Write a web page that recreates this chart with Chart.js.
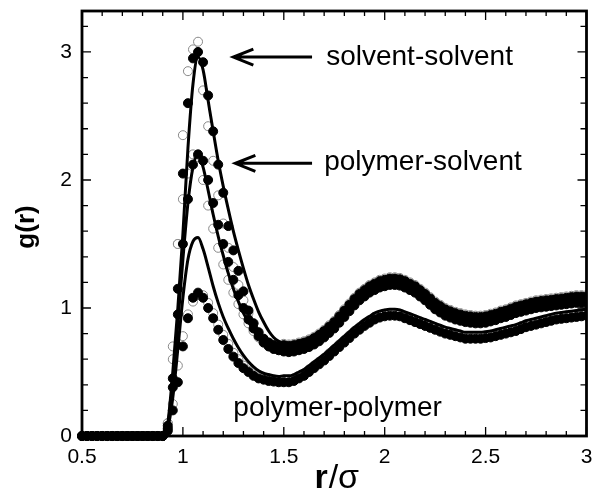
<!DOCTYPE html>
<html>
<head>
<meta charset="utf-8">
<script src="https://cdn.jsdelivr.net/npm/chart.js@4.4.1/dist/chart.umd.min.js"></script>
<style>
  html, body { margin: 0; padding: 0; background: #fff; }
  #wrap { width: 592px; height: 491px; position: relative; }
</style>
</head>
<body>
<div id="wrap"><canvas id="gr"></canvas></div>
<script>
// r/sigma grid shared by all series
const R = [0.5,0.525,0.55,0.575,0.6,0.625,0.65,0.675,0.7,0.725,0.75,0.775,0.8,0.825,0.85,0.875,
  0.9,0.925,0.95,0.975,1,1.025,1.05,1.075,1.1,1.125,1.15,1.175,1.2,1.225,1.25,1.275,1.3,1.325,1.35,1.375,1.4,1.425,1.45,1.475,
  1.5,1.525,1.55,1.575,1.6,1.625,1.65,1.675,1.7,1.725,1.75,1.775,1.8,1.825,1.85,1.875,1.9,1.925,1.95,1.975,
  2,2.025,2.05,2.075,2.1,2.125,2.15,2.175,2.2,2.225,2.25,2.275,2.3,2.325,2.35,2.375,2.4,2.425,2.45,2.475,
  2.5,2.525,2.55,2.575,2.6,2.625,2.65,2.675,2.7,2.725,2.75,2.775,2.8,2.825,2.85,2.875,2.9,2.925,2.95,2.975,3];

// solvent-solvent
const SS_THEORY = [0,0,0,0,0,0,0,0,0,0,0,0,0,0,0,0,
  0,0.10,0.50,1.00,1.58,2.25,2.75,2.96,2.86,2.62,2.38,2.15,1.95,1.77,1.60,1.45,1.31,1.18,1.07,0.97,0.89,0.82,0.77,0.74,
  0.72,0.715,0.72,0.73,0.74,0.755,0.775,0.80,0.83,0.865,0.90,0.945,0.99,1.035,1.08,1.12,1.15,1.18,1.20,1.22,
  1.23,1.24,1.24,1.235,1.22,1.20,1.18,1.15,1.12,1.085,1.05,1.025,1.00,0.985,0.97,0.96,0.95,0.945,0.94,0.94,
  0.945,0.955,0.965,0.98,0.99,1.005,1.02,1.03,1.04,1.05,1.06,1.065,1.07,1.075,1.08,1.085,1.09,1.095,1.10,1.10,1.10];
const SS_FILLED = [0,0,0,0,0,0,0,0,0,0,0,0,0,0,0,0,
  0,0.08,0.45,1.15,2.05,2.60,2.95,3.00,2.92,2.66,2.38,2.12,1.90,1.64,1.45,1.29,1.13,0.98,0.88,0.81,0.76,0.73,0.71,0.70,
  0.71,0.705,0.71,0.72,0.73,0.745,0.765,0.79,0.82,0.855,0.89,0.935,0.98,1.025,1.07,1.11,1.14,1.17,1.19,1.21,
  1.22,1.23,1.23,1.225,1.21,1.19,1.17,1.14,1.11,1.075,1.04,1.015,0.99,0.975,0.96,0.95,0.94,0.935,0.93,0.93,
  0.935,0.945,0.955,0.97,0.98,0.995,1.01,1.02,1.03,1.04,1.05,1.055,1.06,1.065,1.07,1.075,1.08,1.085,1.09,1.09,1.09];
const SS_OPEN = [0,0,0,0,0,0,0,0,0,0,0,0,0,0,0,0,
  0,0.10,0.60,1.50,2.35,2.85,3.02,3.08,2.70,2.42,2.15,1.88,1.66,1.47,1.32,1.18,1.06,0.96,0.88,0.81,0.76,0.73,0.71,0.71,
  0.72,0.715,0.72,0.73,0.74,0.755,0.775,0.80,0.83,0.865,0.90,0.945,0.99,1.035,1.08,1.12,1.15,1.18,1.20,1.22,
  1.23,1.24,1.24,1.235,1.22,1.20,1.18,1.15,1.12,1.085,1.05,1.025,1.00,0.985,0.97,0.96,0.95,0.945,0.94,0.94,
  0.945,0.955,0.965,0.98,0.99,1.005,1.02,1.03,1.04,1.05,1.06,1.065,1.07,1.075,1.08,1.085,1.09,1.095,1.10,1.10,1.10];

// polymer-solvent
const PS_THEORY = [0,0,0,0,0,0,0,0,0,0,0,0,0,0,0,0,
  0,0.08,0.42,0.88,1.38,1.82,2.10,2.20,2.10,1.92,1.73,1.56,1.41,1.27,1.15,1.05,0.96,0.89,0.83,0.78,0.74,0.71,0.69,0.68,
  0.68,0.675,0.68,0.69,0.70,0.715,0.735,0.76,0.79,0.825,0.86,0.905,0.95,0.995,1.04,1.08,1.11,1.14,1.16,1.18,
  1.19,1.20,1.20,1.195,1.18,1.16,1.14,1.11,1.08,1.045,1.01,0.985,0.96,0.945,0.93,0.92,0.91,0.905,0.90,0.90,
  0.905,0.915,0.925,0.94,0.95,0.965,0.98,0.99,1.00,1.01,1.02,1.025,1.03,1.035,1.04,1.045,1.05,1.055,1.06,1.06,1.06];
const PS_FILLED = [0,0,0,0,0,0,0,0,0,0,0,0,0,0,0,0,
  0,0.06,0.38,0.95,1.50,1.85,2.12,2.20,2.15,2.00,1.82,1.65,1.50,1.36,1.22,1.10,1.00,0.91,0.84,0.78,0.73,0.70,0.68,0.67,
  0.66,0.655,0.66,0.67,0.68,0.695,0.715,0.74,0.77,0.805,0.84,0.885,0.93,0.975,1.02,1.06,1.09,1.12,1.14,1.16,
  1.17,1.18,1.18,1.175,1.16,1.14,1.12,1.09,1.06,1.025,0.99,0.965,0.94,0.925,0.91,0.90,0.89,0.885,0.88,0.88,
  0.885,0.895,0.905,0.92,0.93,0.945,0.96,0.97,0.98,0.99,1.00,1.005,1.01,1.015,1.02,1.025,1.03,1.035,1.04,1.04,1.04];
const PS_OPEN = [0,0,0,0,0,0,0,0,0,0,0,0,0,0,0,0,
  0,0.10,0.70,1.50,1.85,2.05,2.20,2.18,2.00,1.80,1.62,1.47,1.34,1.22,1.12,1.03,0.95,0.88,0.82,0.77,0.73,0.70,0.68,0.67,
  0.67,0.665,0.67,0.68,0.69,0.705,0.725,0.75,0.78,0.815,0.85,0.895,0.94,0.985,1.03,1.07,1.10,1.13,1.15,1.17,
  1.18,1.19,1.19,1.185,1.17,1.15,1.13,1.10,1.07,1.035,1.00,0.975,0.95,0.935,0.92,0.91,0.90,0.895,0.89,0.89,
  0.895,0.905,0.915,0.93,0.94,0.955,0.97,0.98,0.99,1.00,1.01,1.015,1.02,1.025,1.03,1.035,1.04,1.045,1.05,1.05,1.05];

// polymer-polymer
const PP_THEORY = [0,0,0,0,0,0,0,0,0,0,0,0,0,0,0,0,
  0,0.06,0.30,0.68,1.08,1.38,1.52,1.55,1.46,1.32,1.17,1.04,0.93,0.84,0.76,0.69,0.63,0.58,0.54,0.51,0.49,0.48,0.47,0.465,
  0.47,0.47,0.48,0.50,0.52,0.55,0.58,0.61,0.64,0.675,0.71,0.745,0.78,0.815,0.85,0.88,0.91,0.935,0.96,0.975,
  0.985,0.99,0.99,0.985,0.97,0.955,0.94,0.925,0.91,0.895,0.88,0.865,0.85,0.84,0.83,0.82,0.81,0.81,0.81,0.81,
  0.815,0.82,0.83,0.84,0.85,0.86,0.87,0.885,0.90,0.91,0.92,0.93,0.94,0.95,0.96,0.965,0.97,0.975,0.98,0.985,0.99];
const PP_FILLED = [0,0,0,0,0,0,0,0,0,0,0,0,0,0,0,0,
  0,0.04,0.20,0.42,0.70,0.92,1.08,1.12,1.08,1.00,0.92,0.83,0.75,0.68,0.62,0.57,0.53,0.50,0.47,0.45,0.44,0.43,0.425,0.42,
  0.42,0.42,0.43,0.45,0.47,0.50,0.53,0.56,0.59,0.625,0.66,0.695,0.73,0.765,0.80,0.83,0.86,0.885,0.91,0.925,
  0.935,0.94,0.94,0.935,0.92,0.905,0.89,0.875,0.86,0.845,0.83,0.815,0.80,0.79,0.78,0.77,0.76,0.76,0.76,0.76,
  0.765,0.77,0.78,0.79,0.80,0.81,0.82,0.835,0.85,0.86,0.87,0.88,0.89,0.90,0.91,0.915,0.92,0.925,0.93,0.935,0.94];
const PP_OPEN = [0,0,0,0,0,0,0,0,0,0,0,0,0,0,0,0,
  0,0.05,0.25,0.55,0.78,0.95,1.05,1.10,1.10,1.04,0.96,0.87,0.79,0.72,0.65,0.60,0.55,0.51,0.48,0.46,0.45,0.44,0.435,0.43,
  0.44,0.44,0.45,0.47,0.49,0.52,0.55,0.58,0.61,0.645,0.68,0.715,0.75,0.785,0.82,0.85,0.88,0.905,0.93,0.945,
  0.955,0.96,0.96,0.955,0.94,0.925,0.91,0.895,0.88,0.865,0.85,0.835,0.82,0.81,0.80,0.79,0.78,0.78,0.78,0.78,
  0.785,0.79,0.80,0.81,0.82,0.83,0.84,0.855,0.87,0.88,0.89,0.90,0.91,0.92,0.93,0.935,0.94,0.945,0.95,0.955,0.96];

const X_TICKS = [0.5, 1, 1.5, 2, 2.5, 3];
const Y_TICKS = [0, 1, 2, 3];

// labels placed at data coordinates (r, g)
const NOTES = [
  { text: "solvent-solvent", r: 1.71, g: 2.90, arrowFrom: 1.64, arrowTo: 1.25, arrowG: 2.96 },
  { text: "polymer-solvent", r: 1.70, g: 2.08, arrowFrom: 1.64, arrowTo: 1.26, arrowG: 2.13 },
  { text: "polymer-polymer", r: 1.25, g: 0.16 }
];

const FONT = "'Liberation Sans', Arial, Helvetica, sans-serif";
const CLIP = { left: 6, right: 0, top: 0, bottom: 7 };

function pts(ys) {
  return R.map((r, i) => ({ x: r, y: ys[i] }));
}

function lineSet(ys) {
  return {
    data: pts(ys), showLine: true, pointRadius: 0, borderColor: "#000",
    borderWidth: 3, cubicInterpolationMode: "monotone", fill: false, clip: CLIP
  };
}
function filledSet(ys) {
  return {
    data: pts(ys), showLine: false, pointRadius: 4.5, pointBorderWidth: 1,
    pointBackgroundColor: "#000", pointBorderColor: "#000", clip: CLIP
  };
}
function openSet(ys) {
  return {
    data: pts(ys), showLine: false, pointRadius: 4.5, pointBorderWidth: 1,
    pointBackgroundColor: "#fff", pointBorderColor: "#888", clip: CLIP
  };
}

const framePlugin = {
  id: "frame",
  afterDatasetsDraw(chart) {
    const ctx = chart.ctx, a = chart.chartArea;
    const x = chart.scales.x, y = chart.scales.y;
    ctx.save();
    ctx.strokeStyle = "#000";
    ctx.lineWidth = 1.3;
    ctx.beginPath();
    for (let k = 5; k <= 30; k++) {
      const px = x.getPixelForValue(k / 10);
      const len = k % 5 === 0 ? 9 : 5;
      ctx.moveTo(px, a.bottom); ctx.lineTo(px, a.bottom - len);
      ctx.moveTo(px, a.top); ctx.lineTo(px, a.top + len);
    }
    for (let k = 0; k <= 16; k++) {
      const py = y.getPixelForValue(k / 5);
      const len = k % 5 === 0 ? 9 : 6;
      ctx.moveTo(a.left, py); ctx.lineTo(a.left + len, py);
      ctx.moveTo(a.right, py); ctx.lineTo(a.right - len, py);
    }
    ctx.stroke();
    ctx.lineWidth = 2.8;
    ctx.strokeRect(a.left, a.top, a.right - a.left, a.bottom - a.top);
    ctx.restore();
  },
  afterDraw(chart) {
    const ctx = chart.ctx;
    const x = chart.scales.x, y = chart.scales.y;
    ctx.save();
    ctx.fillStyle = "#000";
    ctx.strokeStyle = "#000";
    ctx.textBaseline = "alphabetic";
    ctx.textAlign = "left";
    ctx.font = "28px " + FONT;
    NOTES.forEach(n => {
      ctx.fillText(n.text, x.getPixelForValue(n.r), y.getPixelForValue(n.g));
      if (n.arrowFrom) {
        const x0 = x.getPixelForValue(n.arrowFrom);
        const x1 = x.getPixelForValue(n.arrowTo);
        const py = y.getPixelForValue(n.arrowG);
        ctx.lineWidth = 3;
        ctx.beginPath();
        ctx.moveTo(x0, py); ctx.lineTo(x1 + 2, py);
        ctx.moveTo(x1 + 20, py - 8); ctx.lineTo(x1, py); ctx.lineTo(x1 + 20, py + 8);
        ctx.stroke();
      }
    });
    // y title
    ctx.save();
    ctx.translate(27, 227);
    ctx.rotate(-Math.PI / 2);
    ctx.textAlign = "center";
    ctx.textBaseline = "middle";
    ctx.font = "bold 26px " + FONT;
    ctx.fillText("g(r)", 0, 0);
    ctx.restore();
    // x title: bold r, plain /σ
    const boldF = "bold 34px " + FONT, plainF = "34px " + FONT;
    ctx.font = boldF;
    const w1 = ctx.measureText("r").width;
    ctx.font = plainF;
    const w2 = ctx.measureText("/σ").width;
    const cx = (chart.chartArea.left + chart.chartArea.right) / 2 + 2;
    const base = 488;
    const sx = cx - (w1 + w2) / 2;
    ctx.font = boldF;
    ctx.fillText("r", sx, base);
    ctx.font = plainF;
    ctx.fillText("/σ", sx + w1 + 1, base);
    ctx.restore();
  }
};

new Chart(document.getElementById("gr").getContext("2d"), {
  type: "scatter",
  data: {
    datasets: [
      lineSet(SS_THEORY), lineSet(PS_THEORY), lineSet(PP_THEORY),
      filledSet(SS_FILLED), filledSet(PS_FILLED), filledSet(PP_FILLED),
      openSet(SS_OPEN), openSet(PS_OPEN), openSet(PP_OPEN)
    ]
  },
  options: {
    responsive: true,
    maintainAspectRatio: false,
    animation: false,
    layout: { padding: { top: 11, right: 5, left: 0, bottom: 0 } },
    plugins: { legend: { display: false }, tooltip: { enabled: false } },
    scales: {
      x: {
        type: "linear", min: 0.5, max: 3,
        afterBuildTicks: s => { s.ticks = X_TICKS.map(v => ({ value: v })); },
        afterFit: s => { s.height = 55; s.paddingLeft = 0; s.paddingRight = 0; },
        grid: { display: false, drawTicks: false },
        border: { display: false },
        ticks: {
          padding: 9, maxRotation: 0, color: "#000",
          font: { family: FONT, size: 21 },
          callback: v => String(v)
        }
      },
      y: {
        type: "linear", min: 0, max: 3.32,
        afterBuildTicks: s => { s.ticks = Y_TICKS.map(v => ({ value: v })); },
        afterFit: s => { s.width = 82; s.paddingTop = 0; s.paddingBottom = 0; },
        grid: { display: false, drawTicks: false },
        border: { display: false },
        ticks: {
          padding: 10, color: "#000",
          font: { family: FONT, size: 21 },
          callback: v => String(v)
        }
      }
    }
  },
  plugins: [framePlugin]
});
</script>
</body>
</html>
